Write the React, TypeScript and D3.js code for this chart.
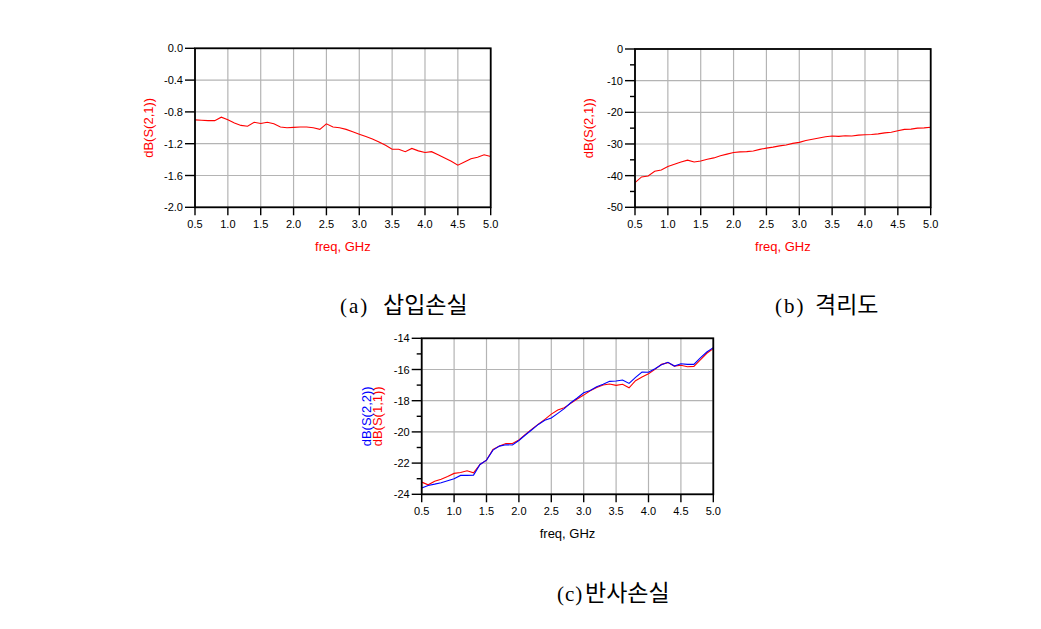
import React from "react";
import * as d3 from "d3";

const freq = [0.5,0.6,0.7,0.8,0.9,1.0,1.1,1.2,1.3,1.4,1.5,1.6,1.7,1.8,1.9,2.0,2.1,2.2,2.3,2.4,2.5,2.6,2.7,2.8,2.9,3.0,3.1,3.2,3.3,3.4,3.5,3.6,3.7,3.8,3.9,4.0,4.1,4.2,4.3,4.4,4.5,4.6,4.7,4.8,4.9,5.0];

const insertionLoss = [-0.90,-0.905,-0.91,-0.91,-0.866,-0.90,-0.94,-0.97,-0.98,-0.93,-0.945,-0.93,-0.95,-0.99,-1.0,-0.995,-0.99,-0.99,-1.0,-1.02,-0.95,-0.99,-1.0,-1.02,-1.05,-1.08,-1.11,-1.14,-1.18,-1.22,-1.27,-1.27,-1.30,-1.26,-1.29,-1.31,-1.30,-1.34,-1.38,-1.42,-1.47,-1.43,-1.39,-1.37,-1.34,-1.36];

const isolation = [-42.2,-40.4,-40.1,-38.6,-38.2,-37.1,-36.4,-35.7,-35.1,-35.7,-35.4,-34.8,-34.4,-33.7,-33.2,-32.7,-32.5,-32.4,-32.2,-31.7,-31.3,-31.0,-30.6,-30.3,-29.8,-29.5,-28.9,-28.5,-28.1,-27.7,-27.5,-27.6,-27.4,-27.5,-27.2,-27.1,-27.0,-26.8,-26.5,-26.3,-25.8,-25.4,-25.3,-25.0,-24.9,-24.7];

const s11 = [-23.22,-23.39,-23.16,-23.03,-22.86,-22.66,-22.60,-22.49,-22.62,-22.09,-21.81,-21.12,-20.91,-20.74,-20.74,-20.52,-20.16,-19.82,-19.50,-19.20,-18.86,-18.60,-18.45,-18.17,-17.89,-17.64,-17.36,-17.15,-16.99,-16.93,-17.02,-16.95,-17.17,-16.72,-16.48,-16.27,-15.99,-15.67,-15.56,-15.78,-15.73,-15.82,-15.80,-15.39,-14.96,-14.66];

const s22 = [-23.60,-23.43,-23.35,-23.26,-23.13,-23.0,-22.79,-22.79,-22.77,-22.09,-21.81,-21.17,-20.91,-20.82,-20.84,-20.55,-20.20,-19.86,-19.52,-19.26,-19.11,-18.81,-18.51,-18.13,-17.83,-17.49,-17.34,-17.10,-16.95,-16.76,-16.74,-16.67,-16.89,-16.50,-16.16,-16.18,-15.95,-15.69,-15.54,-15.78,-15.63,-15.67,-15.67,-15.26,-14.88,-14.60];

const xTicks = [0.5,1.0,1.5,2.0,2.5,3.0,3.5,4.0,4.5,5.0];
const yTicksA = [0.0,-0.4,-0.8,-1.2,-1.6,-2.0];
const yTicksB = [0,-10,-20,-30,-40,-50];
const yTicksC = [-14,-16,-18,-20,-22,-24];

const xLabel = "freq, GHz";
const captionTags = ["(a)", "(b)", "(c)"];
const captionWords = ["삽입손실", "격리도", "반사손실"];

type Series = { values: number[]; color: string; title: string };

const AX_FONT = "Arial, 'Liberation Sans', sans-serif";

function Panel(props: {
  left: number; right: number; top: number; bottom: number;
  yDomain: [number, number]; yTicks: number[]; yDigits: number; minor: boolean;
  series: Series[]; xLabelColor: string; titleOffsets: number[];
}) {
  const { left, right, top, bottom, yDomain, yTicks, yDigits, minor, series, xLabelColor, titleOffsets } = props;
  const x = d3.scaleLinear().domain([0.5, 5.0]).range([left, right]);
  const y = d3.scaleLinear().domain(yDomain).range([bottom, top]);
  const line = d3.line<number>().x((_, i) => x(freq[i])).y((d) => y(d));
  const minorTicks: number[] = [];
  if (minor) {
    for (let i = 0; i < yTicks.length - 1; i++) minorTicks.push((yTicks[i] + yTicks[i + 1]) / 2);
  }
  const fmt = (v: number) => {
    const s = v.toFixed(yDigits);
    return s === "-0" || s === "-0.0" ? s.slice(1) : s;
  };
  const midY = (top + bottom) / 2;
  const cid = "clip" + Math.round(left);
  return (
    <g>
      {xTicks.map((t) => (
        <line key={"gx" + t} x1={x(t)} x2={x(t)} y1={top} y2={bottom} stroke="#b4b4b4" strokeWidth={1.2} />
      ))}
      {yTicks.map((t) => (
        <line key={"gy" + t} x1={left} x2={right} y1={y(t)} y2={y(t)} stroke="#b4b4b4" strokeWidth={1.2} />
      ))}
      {xTicks.map((t) => (
        <line key={"tx" + t} x1={x(t)} x2={x(t)} y1={bottom} y2={bottom + 8} stroke="#000" strokeWidth={1.4} />
      ))}
      {yTicks.map((t) => (
        <line key={"ty" + t} x1={left - 10} x2={left} y1={y(t)} y2={y(t)} stroke="#000" strokeWidth={1.4} />
      ))}
      {minorTicks.map((t) => (
        <line key={"tm" + t} x1={left - 5} x2={left} y1={y(t)} y2={y(t)} stroke="#000" strokeWidth={1.4} />
      ))}
      <clipPath id={cid}>
        <rect x={left} y={top} width={right - left} height={bottom - top} />
      </clipPath>
      {series.map((s, i) => (
        <path key={"s" + i} d={line(s.values) || ""} fill="none" stroke={s.color} strokeWidth={1.1}
          clipPath={`url(#${cid})`} />
      ))}
      <rect x={left} y={top} width={right - left} height={bottom - top} fill="none" stroke="#000" strokeWidth={1.8} />
      {xTicks.map((t) => (
        <text key={"lx" + t} x={x(t)} y={bottom + 21} textAnchor="middle" fontSize={11} fontFamily={AX_FONT} fill="#000">
          {t.toFixed(1)}
        </text>
      ))}
      {yTicks.map((t) => (
        <text key={"ly" + t} x={left - 12} y={y(t) + 4} textAnchor="end" fontSize={11} fontFamily={AX_FONT} fill="#000">
          {fmt(t)}
        </text>
      ))}
      <text x={(left + right) / 2} y={bottom + 44} textAnchor="middle" fontSize={13} fontFamily={AX_FONT} fill={xLabelColor}>
        {xLabel}
      </text>
      {series.map((s, i) => (
        <text key={"yt" + i} transform={`translate(${left - titleOffsets[i]},${midY}) rotate(-90)`} textAnchor="middle"
          dominantBaseline="central" fontSize={13} fontFamily={AX_FONT} fill={s.color}>
          {s.title}
        </text>
      ))}
    </g>
  );
}

function Caption(props: { tagX: number; wordX: number; y: number; i: number; spacing: number }) {
  const { tagX, wordX, y, i, spacing } = props;
  return (
    <g>
      <text x={tagX} y={y} fill="#000" fontSize={21} letterSpacing={spacing}
        fontFamily="'Liberation Serif', 'DejaVu Serif', serif">
        {captionTags[i]}
      </text>
      <text x={wordX} y={y} fill="#000" fontSize={23} fontFamily="'Noto Sans CJK KR', sans-serif">
        {captionWords[i]}
      </text>
    </g>
  );
}

export default function App() {
  return (
    <div style={{ position: "absolute", left: 0, top: 0 }}>
      <svg width={1041} height={629} style={{ display: "block", background: "#fff" }}>
        <Panel left={195} right={490.7} top={48.3} bottom={207.3} yDomain={[-2, 0]} yTicks={yTicksA} yDigits={1}
          minor={false} xLabelColor="#ff0000" titleOffsets={[47]}
          series={[{ values: insertionLoss, color: "#ff0000", title: "dB(S(2,1))" }]} />
        <Panel left={635} right={930.7} top={49} bottom={207.3} yDomain={[-50, 0]} yTicks={yTicksB} yDigits={0}
          minor={true} xLabelColor="#ff0000" titleOffsets={[47]}
          series={[{ values: isolation, color: "#ff0000", title: "dB(S(2,1))" }]} />
        <Panel left={421.7} right={713.3} top={338.3} bottom={494.3} yDomain={[-24, -14]} yTicks={yTicksC} yDigits={0}
          minor={true} xLabelColor="#000" titleOffsets={[44, 55]}
          series={[
            { values: s11, color: "#ff0000", title: "dB(S(1,1))" },
            { values: s22, color: "#0000ff", title: "dB(S(2,2))" },
          ]} />
        <Caption tagX={340} wordX={383} y={313} i={0} spacing={2} />
        <Caption tagX={775} wordX={815} y={313} i={1} spacing={2} />
        <Caption tagX={557} wordX={585} y={601} i={2} spacing={1} />
      </svg>
    </div>
  );
}
